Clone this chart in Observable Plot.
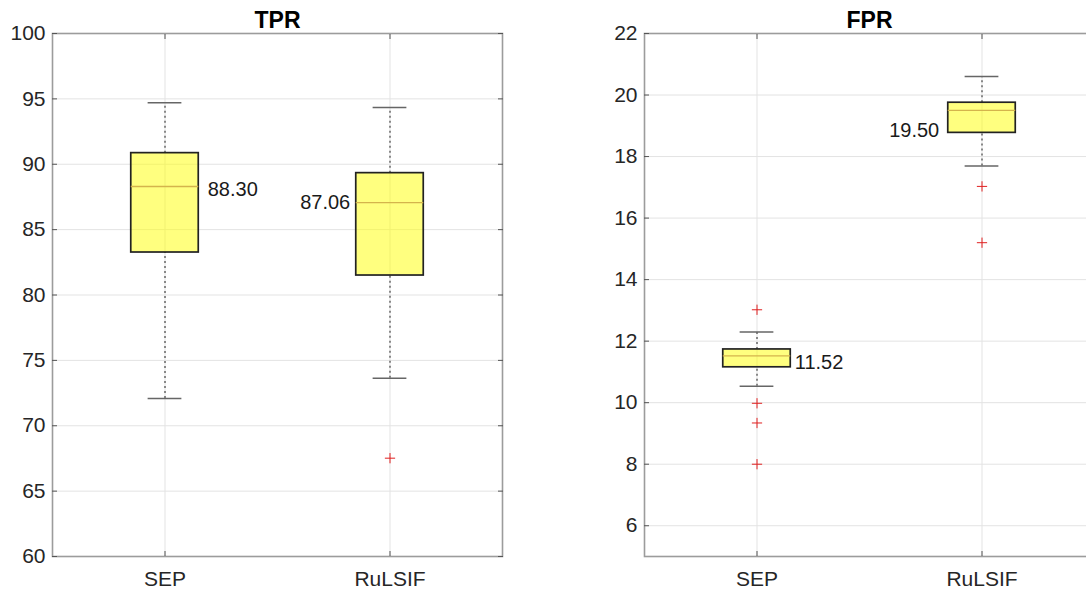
<!DOCTYPE html>
<html><head><meta charset="utf-8">
<script src="https://cdn.jsdelivr.net/npm/d3@7"></script>
<script src="https://cdn.jsdelivr.net/npm/@observablehq/plot@0.6"></script>
<style>
html,body{margin:0;padding:0;background:#fff;width:1086px;height:592px;overflow:hidden;}
#wrap{position:relative;width:1086px;height:592px;overflow:hidden;}
#left{position:absolute;left:0;top:0;width:540px;}
#right{position:absolute;left:540px;top:0;width:564px;}
svg{max-width:none !important;}
</style></head><body><div id="wrap"><div id="left"></div><div id="right"></div></div>
<script>
// ---- data ----
const categories = ["SEP", "RuLSIF"];

const tprTicks = [60, 65, 70, 75, 80, 85, 90, 95, 100];
const tprLower = [72.08, 73.64];
const tprQ1 = [83.25, 81.49];
const tprMedian = [88.30, 87.06];
const tprQ3 = [90.85, 89.32];
const tprUpper = [94.70, 94.34];
const tprOutlierCat = ["RuLSIF"];
const tprOutlierVal = [67.52];

const fprTicks = [6, 8, 10, 12, 14, 16, 18, 20, 22];
const fprLower = [10.53, 17.69];
const fprQ1 = [11.15, 18.77];
const fprMedian = [11.52, 19.50];
const fprQ3 = [11.73, 19.75];
const fprUpper = [12.30, 20.60];
const fprOutlierCat = ["SEP", "SEP", "SEP", "SEP", "RuLSIF", "RuLSIF"];
const fprOutlierVal = [13.02, 9.98, 9.34, 8.00, 17.03, 15.20];

// ---- chart ----
const FONT = "'Liberation Sans', Arial, Helvetica, sans-serif";

function panel(o) {
  const rows = categories.map((c, i) => ({
    cat: c, pos: i + 1, lower: o.lower[i], q1: o.q1[i], median: o.median[i], q3: o.q3[i], upper: o.upper[i]
  }));
  const outs = o.outVal.map((v, i) => ({pos: categories.indexOf(o.outCat[i]) + 1, value: v}));
  const hb = 0.15, hc = 0.075;
  const labelMarks = rows.map((r, i) => {
    const L = o.labels[i];
    const right = L.side === "right";
    return Plot.text([r], {
      x: d => right ? d.pos + hb : d.pos - hb,
      y: "median",
      text: d => d3.format(".2f")(d.median),
      textAnchor: right ? "start" : "end",
      dx: right ? L.gap : -L.gap,
      dy: L.dy,
      fontSize: 20,
      fill: "#1a1a1a"
    });
  });
  return Plot.plot({
    width: o.width,
    height: 592,
    marginLeft: o.marginLeft,
    marginRight: o.marginRight,
    marginTop: 33,
    marginBottom: 36,
    style: {fontFamily: FONT, fontSize: "21px", color: "#262626", background: "white", overflow: "visible", maxWidth: "none"},
    x: {domain: [0.5, 2.5], axis: null},
    y: {domain: o.yDomain, axis: null},
    marks: [
      Plot.gridY(o.yTicks, {stroke: "#e3e3e3", strokeOpacity: 1}),
      Plot.gridX([1, 2], {stroke: "#e3e3e3", strokeOpacity: 1}),
      Plot.ruleX(rows, {x: "pos", y1: "q3", y2: "upper", stroke: "#444", strokeDasharray: "2,3", strokeWidth: 1.2}),
      Plot.ruleX(rows, {x: "pos", y1: "lower", y2: "q1", stroke: "#444", strokeDasharray: "2,3", strokeWidth: 1.2}),
      Plot.ruleY(rows, {y: "upper", x1: d => d.pos - hc, x2: d => d.pos + hc, stroke: "#666", strokeWidth: 1.5}),
      Plot.ruleY(rows, {y: "lower", x1: d => d.pos - hc, x2: d => d.pos + hc, stroke: "#666", strokeWidth: 1.5}),
      Plot.rect(rows, {x1: d => d.pos - hb, x2: d => d.pos + hb, y1: "q1", y2: "q3", fill: "#ffff00", fillOpacity: 0.5, stroke: "#222", strokeWidth: 1.7}),
      Plot.ruleY(rows, {y: "median", x1: d => d.pos - hb, x2: d => d.pos + hb, stroke: "#d4b44c", strokeWidth: 1.3}),
      Plot.dot(outs, {x: "pos", y: "value", symbol: "plus", r: 3.4, stroke: "#e02020", strokeWidth: 1, fill: "none"}),
      Plot.frame({stroke: "#9c9c9c", strokeWidth: 1.6}),
      Plot.axisY({ticks: o.yTicks, anchor: "left", tickSize: 0, tickPadding: 7, label: null, fontSize: 21, fill: "#262626"}),
      Plot.axisY({ticks: o.yTicks, anchor: "left", tickSize: -5, tickFormat: () => "", label: null, stroke: "#555"}),
      Plot.axisY({ticks: o.yTicks, anchor: "right", tickSize: -5, tickFormat: () => "", label: null, stroke: "#555"}),
      Plot.axisX({ticks: [1, 2], anchor: "bottom", tickSize: 0, tickPadding: 15, tickFormat: d => categories[d - 1], label: null, fontSize: 21, fill: "#262626"}),
      Plot.axisX({ticks: [1, 2], anchor: "bottom", tickSize: -5, tickFormat: () => "", label: null, stroke: "#555"}),
      Plot.axisX({ticks: [1, 2], anchor: "top", tickSize: -5, tickFormat: () => "", label: null, stroke: "#555"}),
      Plot.text([o.title], {text: d => d, frameAnchor: "top", lineAnchor: "bottom", dy: -6, fontWeight: "bold", fontSize: 23, fill: "#000"}),
      ...labelMarks
    ]
  });
}

document.getElementById("left").append(panel({
  title: "TPR", lower: tprLower, q1: tprQ1, median: tprMedian, q3: tprQ3, upper: tprUpper,
  outCat: tprOutlierCat, outVal: tprOutlierVal, yDomain: [60, 100], yTicks: tprTicks,
  width: 540, marginLeft: 52, marginRight: 38,
  labels: [{side: "right", gap: 9, dy: 3}, {side: "left", gap: 6, dy: 0}]
}));
document.getElementById("right").append(panel({
  title: "FPR", lower: fprLower, q1: fprQ1, median: fprMedian, q3: fprQ3, upper: fprUpper,
  outCat: fprOutlierCat, outVal: fprOutlierVal, yDomain: [5, 22], yTicks: fprTicks,
  width: 564, marginLeft: 104, marginRight: 10,
  labels: [{side: "right", gap: 4, dy: 7}, {side: "left", gap: 9, dy: 20}]
}));
</script></body></html>
